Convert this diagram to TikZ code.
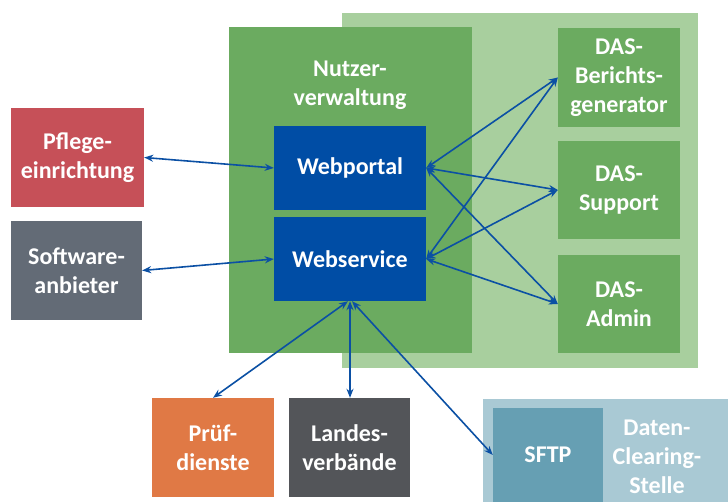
\documentclass[tikz,border=0pt]{standalone}
\usepackage{fontspec}
\setmainfont{Carlito}
\usetikzlibrary{arrows.meta,calc}
\definecolor{hellgruen}{HTML}{A8CF9E}
\definecolor{gruen}{HTML}{6BAB60}
\definecolor{blau}{HTML}{004DA5}
\definecolor{rot}{HTML}{C65058}
\definecolor{schiefer}{HTML}{636B76}
\definecolor{orange}{HTML}{E07945}
\definecolor{dunkelgrau}{HTML}{535559}
\definecolor{hellblau}{HTML}{A9C9D4}
\definecolor{petrol}{HTML}{669FB3}
\definecolor{pfeil}{HTML}{0B50A4}
\begin{document}
\begin{tikzpicture}[x=1pt,y=-1pt,
           every node/.style={inner sep=2pt,align=center,text=white,
             font=\bfseries\fontsize{24}{29}\selectfont},
           kasten/.style={fill=#1,minimum width=122,minimum height=99},
           verbindung/.style={<->,draw=pfeil,line width=1.6pt},
           >={Stealth[length=9pt,width=7pt]}]
           \useasboundingbox(0,0)rectangle(728,502);
           \fill[hellgruen](342,13)rectangle(698,368);
           \fill[gruen](229,27)rectangle(472,353);
           \fill[hellblau](483,399)rectangle(728,502);
           \node(nutzer)at(350,85){Nutzer-\\verwaltung};
           \node[kasten=rot,minimum width=133](pflege)at(77.5,157.5){Pflege-\\einrichtung};
           \node[kasten=schiefer,minimum width=131](software)at(76.5,270.5){Software-\\anbieter};
           \node[kasten=blau,minimum width=152,minimum height=84](portal)at(350,168){Webportal};
           \node[kasten=blau,minimum width=152,minimum height=84](service)at(350,259){Webservice};
           \node[kasten=gruen](bericht)at(619,77.5){DAS-\\Berichts-\\generator};
           \node[kasten=gruen,minimum height=98](support)at(619,190){DAS-\\Support};
           \node[kasten=gruen,minimum height=98](admin)at(619,304){DAS-\\Admin};
           \node[kasten=orange](pruef)at(213,447.5){Prüf-\\dienste};
           \node[kasten=dunkelgrau,minimum width=121](landes)at(349.5,447.5){Landes-\\verbände};
           \node[kasten=petrol,minimum width=110,minimum height=94](sftp)at(548,455){SFTP};
           \node(clearing)at(657,457){Daten-\\Clearing-\\Stelle};
           \draw[verbindung](pflege.east)--(portal.west);
           \draw[verbindung](software.east)--(service.west);
           \foreach \ziel in {bericht,support,admin}{
             \draw[verbindung](portal.east)--(\ziel.west);
             \draw[verbindung](service.east)--(\ziel.west);}
           \draw[verbindung]($(service.south)+(-2,0)$)--(pruef.north);
           \draw[verbindung](service.south)--(service.south|-landes.north);
           \draw[verbindung]($(service.south)+(2,0)$)--(sftp.west);
         \end{tikzpicture}
\end{document}
